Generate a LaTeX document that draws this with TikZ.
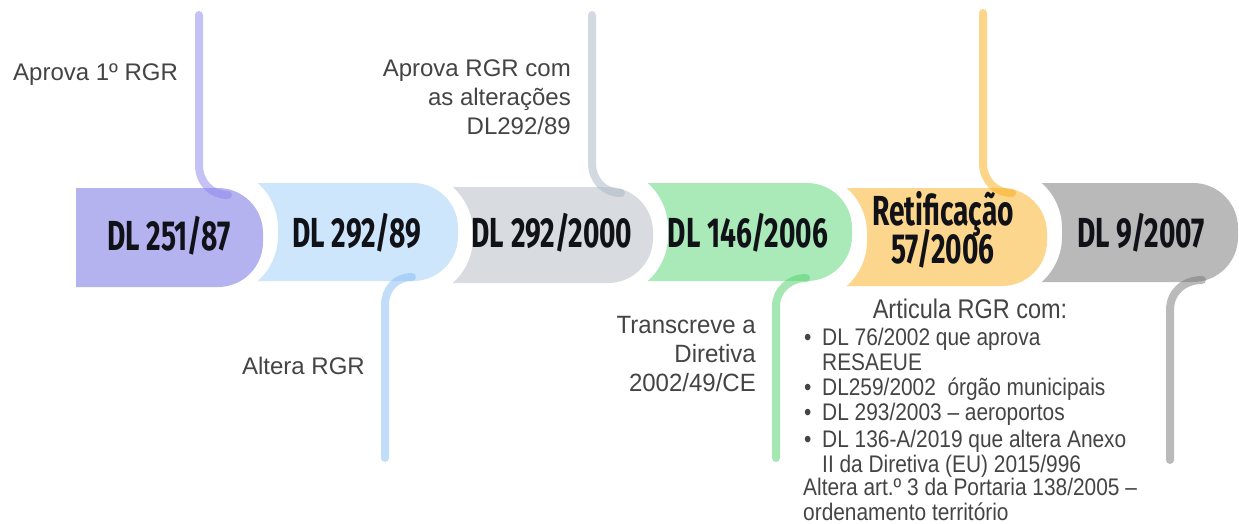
\documentclass[tikz,border=0pt]{standalone}
\usepackage{fontspec}
\setmainfont{Liberation Sans}
\newfontfamily\segfont[FakeStretch=0.67]{Fira Sans}
\newfontfamily\arialn[FakeStretch=0.87]{Liberation Sans}
\newfontfamily\ariald[FakeStretch=0.96]{Liberation Sans}
\definecolor{segA}{HTML}{B5B2F0}
\definecolor{segB}{HTML}{CDE6FC}
\definecolor{segC}{HTML}{D8DCE1}
\definecolor{segD}{HTML}{AAEAB9}
\definecolor{segE}{HTML}{FCD68C}
\definecolor{segF}{HTML}{B9B9B9}
\definecolor{lnA}{HTML}{8B85ED}
\definecolor{lnB}{HTML}{87BDF5}
\definecolor{lnC}{HTML}{A9B5C5}
\definecolor{lnD}{HTML}{4DD169}
\definecolor{lnE}{HTML}{FBAD15}
\definecolor{lnF}{HTML}{777777}
\definecolor{labelink}{HTML}{111118}
\definecolor{noteink}{HTML}{444444}
% #1 colour, #2 top, #3 bottom, #4 previous tip, #5 own tip
\newcommand\segpath[5]{%
  \fill[#1] ({#4-5.3},#2) -- ({#5-45},#2)
    .. controls ({#5-20.15},#2) and (#5,{#2+20.15}) .. (#5,{#2+45})
    -- (#5,{#3-45})
    .. controls (#5,{#3-20.15}) and ({#5-20.15},#3) .. ({#5-45},#3)
    -- ({#4-5.3},#3)
    .. controls ({#4+7.6},{#3-11.4}) and ({#4+15},{#3-27.8}) .. ({#4+15},{#3-45})
    -- ({#4+15},{#2+45})
    .. controls ({#4+15},{#2+27.8}) and ({#4+7.6},{#2+11.4}) .. ({#4-5.3},#2)
    -- cycle;}
\begin{document}
\begin{tikzpicture}[x=1pt,y=-1pt,
  seglabel/.style={font=\segfont\bfseries\fontsize{42}{46}\selectfont, text=labelink, inner sep=0pt, anchor=base},
  note/.style={font=\fontsize{24}{29}\selectfont, text=noteink, inner sep=0pt},
  noteb/.style={font=\ariald\fontsize{25}{29}\selectfont, text=noteink, inner sep=0pt},
  listtitle/.style={font=\arialn\fontsize{27}{30}\selectfont, text=noteink, inner sep=0pt, anchor=base},
  listline/.style={font=\arialn\fontsize{24}{25}\selectfont, text=noteink, inner sep=0pt, anchor=base west},
  conn/.style={line width=8pt, line cap=round, opacity=0.5}]
\useasboundingbox (0,0) rectangle (1239,524);
\fill[white] (0,0) rectangle (1239,524);
% first segment (straight left edge)
\fill[segA] (76,188) -- ({263-45},188)
    .. controls ({263-20.15},188) and (263,{188+20.15}) .. (263,{188+45})
    -- (263,{287-45})
    .. controls (263,{287-20.15}) and ({263-20.15},287) .. ({263-45},287)
    -- (76,287) -- cycle;
\segpath{segB}{183}{281}{263}{458}
\segpath{segC}{187}{283}{458}{653}
\segpath{segD}{183}{281}{653}{852}
\segpath{segE}{188}{286}{852}{1047}
\segpath{segF}{183}{282}{1047}{1238}
% segment labels
\node[seglabel] (l1) at (169,250) {DL 251/87};
\node[seglabel] (l2) at (357,247) {DL 292/89};
\node[seglabel] (l3) at (552,247) {DL 292/2000};
\node[seglabel] (l4) at (748,247) {DL 146/2006};
\node[seglabel] (l5a) at (943,225) {Retificação};
\node[seglabel] (l5b) at (943,263) {57/2006};
\node[seglabel] (l6) at (1141,247) {DL 9/2007};
% connector ends
\coordinate (t1) at (199,15);  \coordinate (t1e) at (228,195);
\coordinate (t3) at (592,15);  \coordinate (t3e) at (621,193);
\coordinate (t5) at (983,13);  \coordinate (t5e) at (1012,193);
\coordinate (b2) at (412,277); \coordinate (b2e) at (385,458);
\coordinate (b4) at (806,278); \coordinate (b4e) at (776,458);
\coordinate (b6) at (1202,280); \coordinate (b6e) at (1170,460);
\draw[conn, lnA] (t1) -- ++(0,150) .. controls +(0,17) and +(-17,0) .. (t1e);
\draw[conn, lnC] (t3) -- ++(0,148) .. controls +(0,17) and +(-17,0) .. (t3e);
\draw[conn, lnE] (t5) -- ++(0,150) .. controls +(0,17) and +(-17,0) .. (t5e);
\draw[conn, lnB] (b2) .. controls +(-16,0) and +(0,-16) .. ++(-27,28) -- (b2e);
\draw[conn, lnD] (b4) .. controls +(-16,0) and +(0,-16) .. ++(-30,28) -- (b4e);
\draw[conn, lnF] (b6) .. controls +(-18,0) and +(0,-18) .. ++(-32,30) -- (b6e);
% annotations
\node[note, anchor=base west] (n1) at (13,81) {Aprova 1º RGR};
\node[note, anchor=base east] (n3a) at (571,77) {Aprova RGR com};
\node[note, anchor=base east] (n3b) at (571,106) {as alterações};
\node[note, anchor=base east] (n3c) at (571,135) {DL292/89};
\node[note, anchor=base east] (n2) at (365,374) {Altera RGR};
\node[noteb, anchor=base east] (n4a) at (756,333) {Transcreve a};
\node[noteb, anchor=base east] (n4b) at (756,362) {Diretiva};
\node[noteb, anchor=base east] (n4c) at (756,391) {2002/49/CE};
\node[listtitle] (n5) at (970,318) {Articula RGR com:};
\node[listline] (n5a) at (804,345) {\makebox[18pt][l]{•}DL 76/2002 que aprova};
\node[listline] (n5b) at (822,370) {RESAEUE};
\node[listline] (n5c) at (804,395) {\makebox[18pt][l]{•}DL259/2002\ \ órgão municipais};
\node[listline] (n5d) at (804,420) {\makebox[18pt][l]{•}DL 293/2003 – aeroportos};
\node[listline] (n5e) at (804,447) {\makebox[18pt][l]{•}DL 136-A/2019 que altera Anexo};
\node[listline] (n5f) at (822,472) {II da Diretiva (EU) 2015/996};
\node[listline] (n5g) at (803,495) {Altera art.º 3 da Portaria 138/2005 –};
\node[listline] (n5h) at (803,520) {ordenamento território};
\end{tikzpicture}
\end{document}
